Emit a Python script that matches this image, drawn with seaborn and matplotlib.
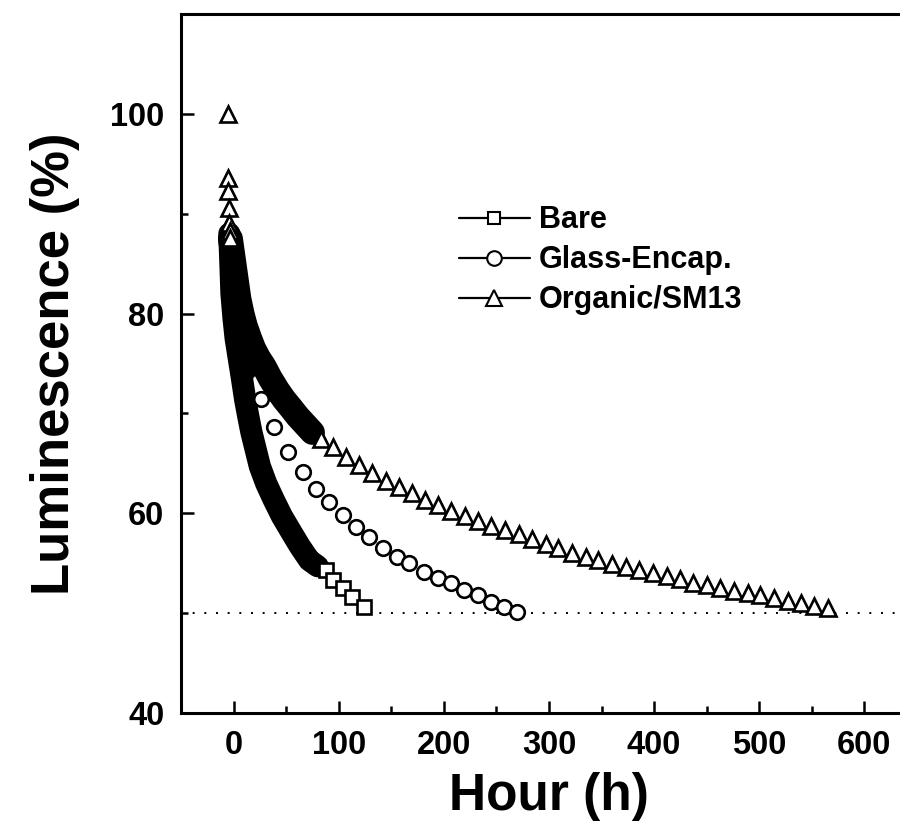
import numpy as np
import seaborn as sns
from matplotlib import pyplot as plt
from matplotlib.lines import Line2D
from matplotlib.ticker import MultipleLocator

# --- data (hour, luminescence %) ---
# dense early measurements (drawn as a solid band in the original)
bare_dense_h = [-4, -3, -2, 0, 2, 5, 8, 11, 14, 17, 21, 25, 31, 38, 46, 55, 63, 72, 80]
bare_dense_lum = [88, 85, 82, 79.5, 77.5, 75.5, 73.5, 71.4, 69.7, 68.1, 66.4, 64.7, 63.0, 61.4, 59.7, 58.1, 56.7, 55.3, 54.7]

glass_dense_h = [-4, -3, -1, 1, 5, 9, 13]
glass_dense_lum = [88, 85.5, 82.5, 79.5, 77.0, 75.5, 74.3]

organic_dense_h = [-3, -1, 1, 3, 5, 8, 11, 15, 19, 24, 29, 35, 42, 48, 55, 61, 68, 75]
organic_dense_lum = [87.5, 86, 84.5, 83, 81.5, 80, 78.8, 77.6, 76.5, 75.5, 74.7, 73.5, 72.3, 71.4, 70.5, 69.7, 68.9, 68.1]

# sparse later measurements (open symbols)
bare_h = [88, 95, 104, 113, 124]
bare_lum = [54.3, 53.3, 52.5, 51.6, 50.6]

glass_h = [26, 38, 52, 66, 78, 91, 104, 116, 129, 142, 155, 167, 181, 194, 207, 219, 232, 245, 257, 270]
glass_lum = [71.4, 68.6, 66.1, 64.1, 62.4, 61.1, 59.8, 58.6, 57.6, 56.5, 55.6, 55.0, 54.1, 53.5, 53.0, 52.3, 51.8, 51.1, 50.6, 50.1]

organic_h = [-5, -5, -5, -4, -4, -3, -3,
             83, 95, 107, 119, 132, 145, 157, 170, 182, 194, 207, 220, 232, 245, 258, 271, 284, 297,
             309, 322, 335, 347, 360, 373, 386, 399, 412, 425, 437, 450, 463, 476, 489, 501, 514, 527,
             540, 552, 565]
organic_lum = [100, 93.6, 92.3, 90.6, 89.1, 88.3, 87.6,
               67.4, 66.6, 65.6, 64.8, 64.0, 63.2, 62.6, 62.0, 61.3, 60.8, 60.2, 59.7, 59.2, 58.7, 58.3, 57.9, 57.4, 56.9,
               56.5, 56.0, 55.6, 55.3, 54.9, 54.6, 54.3, 54.0, 53.7, 53.4, 53.0, 52.8, 52.5, 52.2, 52.0, 51.8, 51.5, 51.2,
               51.0, 50.7, 50.5]

half_life = 50
labels = ['Bare', 'Glass-Encap.', 'Organic/SM13']

sns.set_theme(style='ticks')
plt.rcParams['font.family'] = ['Liberation Sans', 'DejaVu Sans']
plt.rcParams['text.color'] = 'black'
plt.rcParams['axes.labelcolor'] = 'black'
plt.rcParams['xtick.color'] = 'black'
plt.rcParams['ytick.color'] = 'black'

fig = plt.figure(figsize=(9, 8.33), dpi=100)
ax = fig.add_axes([181/900, 120/833, (917-181)/900, (713-14)/833])

# dense parts as a thick black band
for hh, ll, w in [(bare_dense_h, bare_dense_lum, 16),
                  (glass_dense_h, glass_dense_lum, 14),
                  (organic_dense_h, organic_dense_lum, 18)]:
    sns.lineplot(x=hh, y=ll, ax=ax, sort=False, estimator=None, color='black',
                 lw=w, solid_capstyle='round', solid_joinstyle='round', zorder=2)

# sparse parts as open markers
for hh, ll, m, ms in [(bare_h, bare_lum, 's', 9.5),
                      (glass_h, glass_lum, 'o', 10.5),
                      (organic_h, organic_lum, '^', 11)]:
    sns.lineplot(x=hh, y=ll, ax=ax, sort=False, estimator=None, linestyle='',
                 marker=m, markersize=ms, markerfacecolor='white',
                 markeredgecolor='black', markeredgewidth=1.9, zorder=3)

ax.axhline(half_life, color='black', lw=1.4, linestyle=(0, (1, 5)), zorder=1)

ax.set_xlim(-50, 650)
ax.set_ylim(40, 110)
ax.xaxis.set_major_locator(MultipleLocator(100))
ax.xaxis.set_minor_locator(MultipleLocator(50))
ax.yaxis.set_minor_locator(MultipleLocator(10))
ax.set_yticks([40, 60, 80, 100])
ax.tick_params(which='both', direction='in', width=1.8, colors='black')
ax.tick_params(which='major', length=9, labelsize=23.5, pad=12)
ax.tick_params(which='minor', length=5)
for lab in ax.get_xticklabels() + ax.get_yticklabels():
    lab.set_fontweight('bold')
for sp in ax.spines.values():
    sp.set_linewidth(2.2)
    sp.set_color('black')

ax.set_xlabel('Hour (h)', fontsize=37, fontweight='bold', labelpad=8, color='black')
ax.set_ylabel('Luminescence (%)', fontsize=38, fontweight='bold', labelpad=22, color='black')

handles = [Line2D([], [], color='black', lw=1.6, marker=m, markersize=ms,
                  markerfacecolor='white', markeredgecolor='black', markeredgewidth=1.5)
           for m, ms in [('s', 9), ('o', 10.5), ('^', 11)]]
leg = ax.legend(handles, labels, loc='upper left', bbox_to_anchor=(444/900, 1-190/833),
                bbox_transform=fig.transFigure, frameon=False,
                prop={'size': 22, 'weight': 'bold'},
                handlelength=2.3, handletextpad=0.3, labelspacing=0.33, borderpad=0)
for t in leg.get_texts():
    t.set_color('black')

fig.savefig('out.png', dpi=100)
